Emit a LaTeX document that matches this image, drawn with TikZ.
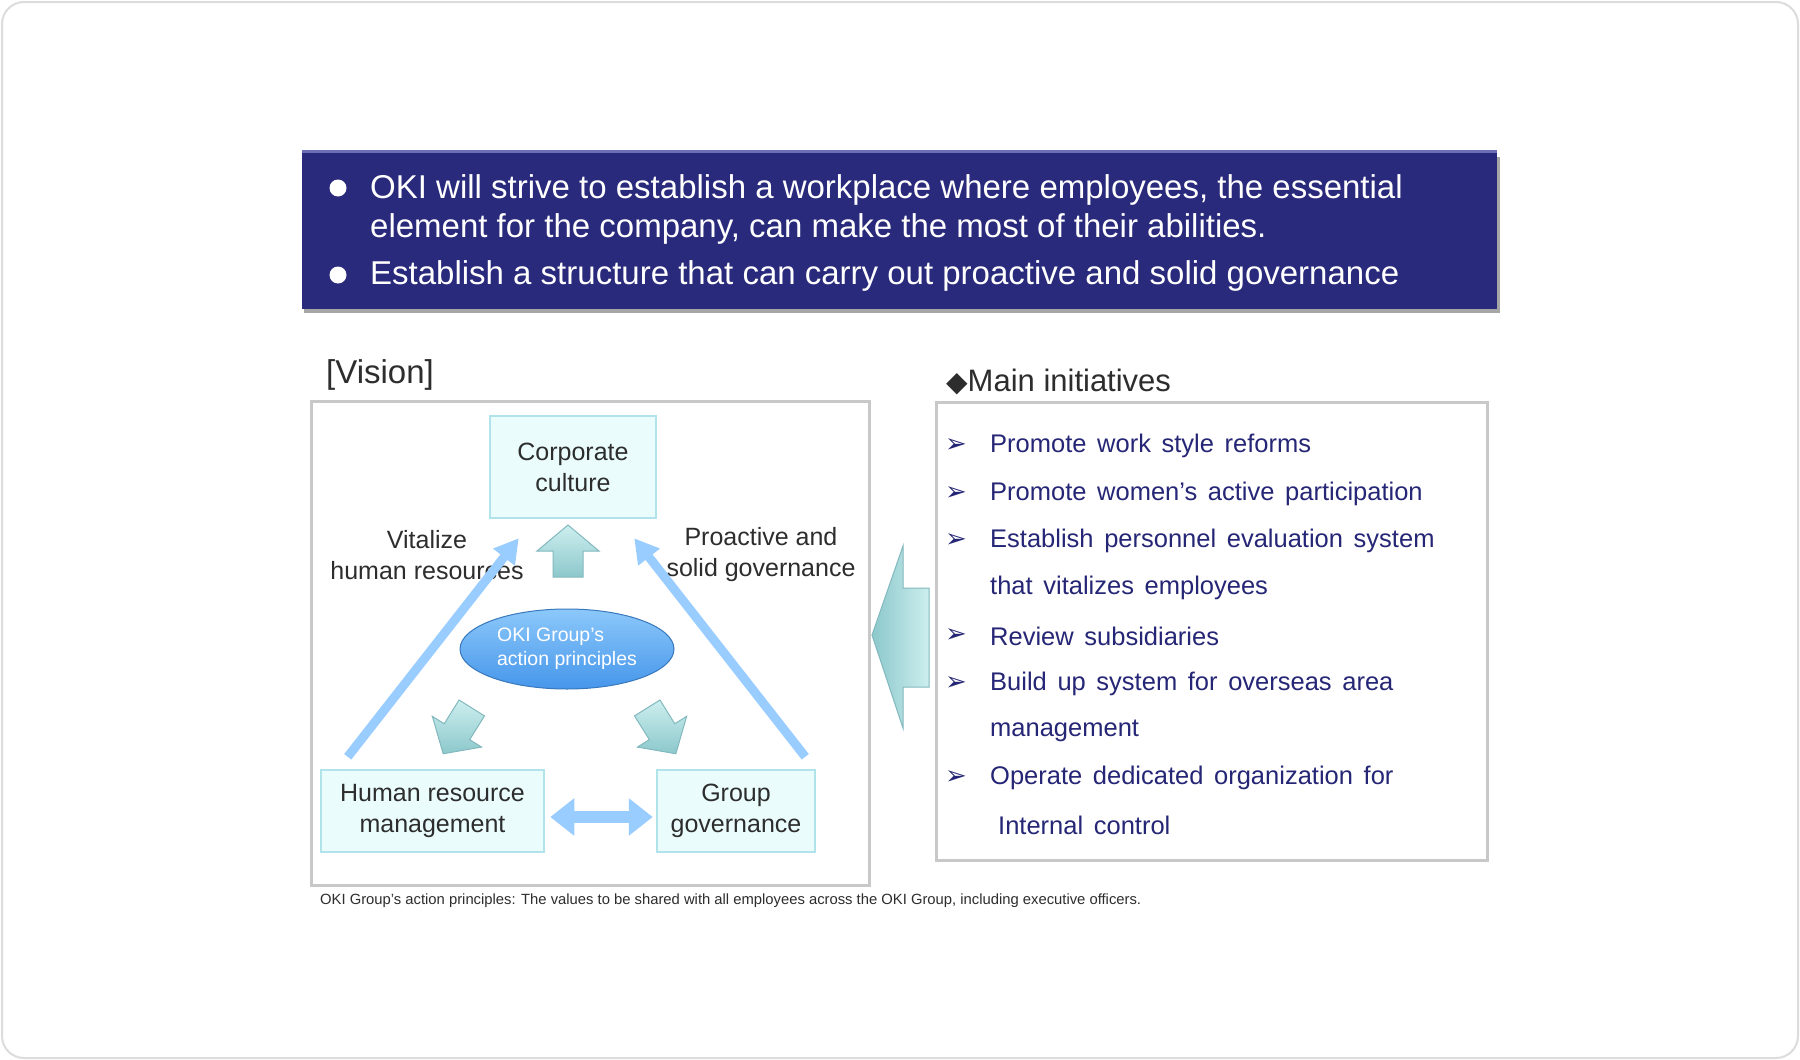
\documentclass[tikz,border=0pt]{standalone}
\usepackage{fontspec}
\setmainfont{Liberation Sans}
\newfontfamily\dejavu{DejaVu Sans}
\newfontfamily\itemfont{Liberation Sans}[WordSpace=1.5]
\usetikzlibrary{arrows.meta,shapes.geometric,calc}
\definecolor{navy}{RGB}{42,42,124}
\definecolor{navytop}{RGB}{110,110,180}
\definecolor{boxfill}{RGB}{234,252,252}
\definecolor{boxedge}{RGB}{176,228,234}
\definecolor{lblue}{RGB}{153,204,255}
\definecolor{tealA}{RGB}{205,238,238}
\definecolor{tealB}{RGB}{140,200,204}
\definecolor{tealedge}{RGB}{130,185,190}
\definecolor{ellA}{RGB}{140,200,250}
\definecolor{ellB}{RGB}{70,150,235}
\definecolor{listtext}{RGB}{38,38,118}
\definecolor{graytext}{RGB}{45,45,45}
\definecolor{framegray}{RGB}{200,200,200}
\definecolor{cardgray}{RGB}{220,220,220}
\tikzset{
  cbox/.style={draw=boxedge, line width=2.5, fill=boxfill, align=center, text=graytext, inner sep=0pt, font=\fontsize{25}{31}\selectfont},
  lbl/.style={align=center, text=graytext, font=\fontsize{25}{31}\selectfont},
  bannertxt/.style={anchor=west, text=white, inner sep=0pt, font=\fontsize{33}{38}\selectfont},
  bannerdot/.style={circle, fill=white, minimum size=17, inner sep=0pt},
  item/.style={anchor=west, text=listtext, inner sep=0pt, font=\itemfont\fontsize{25.5}{30}\selectfont},
  itembullet/.style={text=listtext, inner sep=0pt, font=\dejavu\fontsize{26}{30}\selectfont},
  framebox/.style={draw=framegray, line width=3, fill=white, inner sep=0pt},
  bluearrow/.style={draw=lblue, line width=9, -{Triangle[length=24,width=26]}},
  tealarrow/.style={draw=tealedge, line width=1, top color=tealA, bottom color=tealB},
}
\begin{document}
\begin{tikzpicture}[x=1pt,y=-1pt]
\useasboundingbox (0,0) rectangle (1800,1060);
\fill[white] (0,0) rectangle (1800,1060);
\draw[cardgray, line width=2, rounded corners=22] (2,2) rectangle (1798,1058);

% banner
\fill[black!35] (304,157) rectangle (1500,313);
\node[fill=navy, minimum width=1195, minimum height=157, inner sep=0pt] (banner) at (899.5,230.5) {};
\draw[navytop, line width=3] (banner.north west) -- (banner.north east);
\node[bannerdot] (d1) at (338,188) {};
\node[bannerdot] (d2) at (338,275) {};
\node[bannertxt] (b1) at (370,190) {OKI will strive to establish a workplace where employees, the essential};
\node[bannertxt] (b2) at (370,229) {element for the company, can make the most of their abilities.};
\node[bannertxt] (b3) at (370,276) {Establish a structure that can carry out proactive and solid governance};

% vision
\node[anchor=west, text=graytext, inner sep=0pt, font=\fontsize{33}{38}\selectfont] (vtitle) at (326,375) {[Vision]};
\node[framebox, minimum width=558, minimum height=484] (vis) at (590,643) {};

\node[cbox, minimum width=166, minimum height=102] (cc) at (573,467) {Corporate\\culture};
\node[cbox, minimum width=223, minimum height=82] (hr) at (432.5,811) {Human resource\\management};
\node[cbox, minimum width=158, minimum height=82] (gg) at (736,811) {Group\\governance};

\node[lbl] (vit) at (427,555) {Vitalize\\human resources};
\node[lbl] (pro) at (761,555) {Proactive and\\solid governance};

\node[ellipse, draw=ellB!80!black, line width=1, top color=ellA, bottom color=ellB, minimum width=214, minimum height=80, inner sep=0pt, text=white, align=left, font=\fontsize{19.5}{24}\selectfont] (ell) at (567,649) {OKI Group’s\\action principles};

% blue arrows
\coordinate (l1) at ($(hr.north west)+(28,-12)$);
\coordinate (l2) at ($(cc.south west)+(30,19)$);
\coordinate (r1) at ($(gg.north east)+(-11,-12)$);
\coordinate (r2) at ($(cc.south east)+(-23,19)$);
\draw[bluearrow] (l1) -- (l2);
\draw[bluearrow] (r1) -- (r2);
\draw[draw=lblue, line width=12, {Triangle[length=24,width=36]}-{Triangle[length=24,width=36]}] ($(hr.east)+(5,6)$) -- ($(gg.west)+(-3,6)$);

% teal block arrows
\draw[tealarrow] (568,525) -- (599,551) -- (583,551) -- (583,577) -- (553,577) -- (553,551) -- (537,551) -- cycle;
\begin{scope}[shift={(458,730)}, rotate=-122]
\draw[tealarrow] (-26,-15) -- (2,-15) -- (2,-29) -- (28,0) -- (2,29) -- (2,15) -- (-26,15) -- cycle;
\end{scope}
\begin{scope}[shift={(661,730)}, rotate=-58]
\draw[tealarrow] (-26,-15) -- (2,-15) -- (2,-29) -- (28,0) -- (2,29) -- (2,15) -- (-26,15) -- cycle;
\end{scope}

% main initiatives
\node[anchor=west, text=graytext, inner sep=0pt, font=\fontsize{31}{36}\selectfont] (mtitle) at (946,382) {{\dejavu\fontsize{28}{32}\selectfont ◆}Main initiatives};
\node[framebox, minimum width=551, minimum height=458] (init) at (1211.5,631) {};

\draw[draw=tealedge, line width=1, left color=tealB, right color=tealA] (872,635) -- (903,546) -- (903,588) -- (929,588) -- (929,687) -- (903,687) -- (903,728) -- cycle;

\foreach \y/\t in {446/Promote work style reforms, 494/Promote women’s active participation, 541/Establish personnel evaluation system, 636/Review subsidiaries, 684/Build up system for overseas area, 778/Operate dedicated organization for}{
  \node[itembullet] at (956,\y) {➢};
  \node[item] at (990,\y) {\t};
}
\node[item] (i3b) at (990,588) {that vitalizes employees};
\node[item] (i5b) at (990,731) {management};
\node[item] (i6b) at (998,825) {Internal control};

% footnote
\node[anchor=west, text=graytext, inner sep=0pt, font=\fontsize{14.8}{17}\selectfont] (foot) at (320,901) {OKI Group’s action principles: The values to be shared with all employees across the OKI Group, including executive officers.};
\end{tikzpicture}
\end{document}
